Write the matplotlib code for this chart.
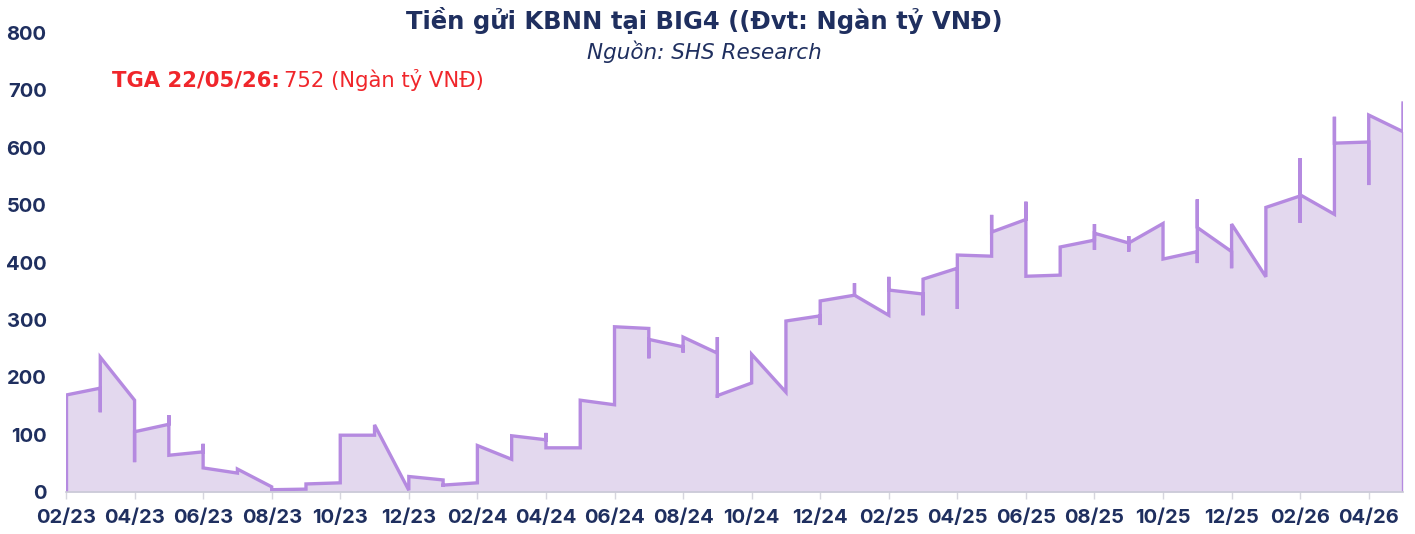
import matplotlib
matplotlib.use("Agg")
import matplotlib.pyplot as plt

# ---- data (month index from 02/2023, TGA value in thousand bn VND) ----
months = [
    0,
    1, 1, 1,
    2, 2, 2,
    3, 3, 3,
    4, 4, 4,
    5, 5,
    6, 6,
    7, 7,
    8, 8,
    9, 9,
    10, 10,
    11, 11, 11,
    12, 12,
    13, 13,
    14, 14, 14,
    15, 15,
    16, 16,
    17, 17, 17,
    18, 18, 18,
    19, 19, 19, 19,
    20, 20,
    21, 21,
    22, 22, 22,
    23, 23, 23,
    24, 24, 24,
    25, 25, 25,
    26, 26, 26,
    27, 27, 27,
    28, 28, 28,
    29, 29,
    30, 30, 30, 30,
    31, 31, 31, 31,
    32, 32,
    33, 33, 33, 33,
    34, 34, 34,
    35, 35,
    36, 36, 36, 36,
    37, 37, 37,
    38, 38, 38,
    39, 39,
]

values = [
    169,
    181, 139, 235,
    160, 52, 105,
    118, 134, 64,
    70, 84, 42,
    33, 40,
    9, 4,
    5, 14,
    16, 99,
    99, 117,
    3, 27,
    21, 9, 12,
    16, 81,
    57, 98,
    91, 103, 77,
    77, 160,
    152, 288,
    285, 233, 266,
    253, 243, 270,
    242, 270, 164, 168,
    190, 240,
    174, 298,
    307, 291, 333,
    343, 364, 343,
    308, 375, 352,
    345, 308, 371,
    390, 319, 413,
    411, 483, 453,
    475, 506, 376,
    378, 427,
    439, 467, 422, 451,
    434, 446, 419, 434,
    468, 406,
    419, 399, 510, 461,
    419, 390, 467,
    375, 496,
    516, 582, 469, 518,
    484, 654, 608,
    610, 535, 657,
    628, 678,
]

tick_positions = list(range(0, 40, 2))
tick_labels = [
    "02/23", "04/23", "06/23", "08/23", "10/23", "12/23",
    "02/24", "04/24", "06/24", "08/24", "10/24", "12/24",
    "02/25", "04/25", "06/25", "08/25", "10/25", "12/25",
    "02/26", "04/26",
]

y_ticks = [0, 100, 200, 300, 400, 500, 600, 700, 800]

# ---- style ----
navy = "#1f2f5f"
line_color = "#b58ae0"
fill_color = "#e3d8ee"
red = "#f0262b"

plt.rcParams["font.family"] = ["Inter", "DejaVu Sans"]
wide_font = ["DejaVu Sans"]

fig = plt.figure(figsize=(14.15, 5.34), dpi=100)
ax = fig.add_axes([66 / 1415, 1 - 492 / 534, (1403 - 66) / 1415, (492 - 33) / 534])

ax.fill_between(months, values, 0, color=fill_color, linewidth=0)
ax.plot(months, values, color=line_color, linewidth=2.4, solid_joinstyle="miter")

# area edges down to baseline
ax.vlines([months[0], months[-1]], 0, [values[0], values[-1]],
          color=line_color, linewidth=2.4)

ax.set_xlim(months[0], months[-1])
ax.set_ylim(0, 800)

ax.set_yticks(y_ticks)
ax.set_xticks(tick_positions)
ax.set_xticklabels(tick_labels)

for spine in ["top", "right", "left"]:
    ax.spines[spine].set_visible(False)
ax.spines["bottom"].set_color("#c9c9d6")
ax.spines["bottom"].set_linewidth(1.2)

ax.tick_params(axis="y", length=0, pad=14, labelsize=14.5, labelcolor=navy)
ax.tick_params(axis="x", length=5, width=1, color="#d6d6de", pad=7,
               labelsize=14.5, labelcolor=navy)
for lbl in ax.get_xticklabels() + ax.get_yticklabels():
    lbl.set_fontweight("bold")

# ---- texts ----
fig.text(0.4975, 1 - 20 / 534, "Tiền gửi KBNN tại BIG4 ((Đvt: Ngàn tỷ VNĐ)",
         ha="center", va="center", fontsize=17.5, fontweight="bold",
         color=navy, family=wide_font)
fig.text(0.4975, 1 - 52 / 534, "Nguồn: SHS Research",
         ha="center", va="center", fontsize=15.5, style="italic",
         color=navy, family=wide_font)

red_label = fig.text(112 / 1415, 1 - 80 / 534, "TGA 22/05/26:",
                     ha="left", va="center", fontsize=15.2,
                     fontweight="bold", color=red, family=wide_font)
fig.canvas.draw()
bbox = red_label.get_window_extent()
fig.text(bbox.x1 / 1415 + 4 / 1415, 1 - 80 / 534, "752 (Ngàn tỷ VNĐ)",
         ha="left", va="center", fontsize=15.2, color=red, family=wide_font)

fig.savefig("out.png", dpi=100)
plt.close(fig)
